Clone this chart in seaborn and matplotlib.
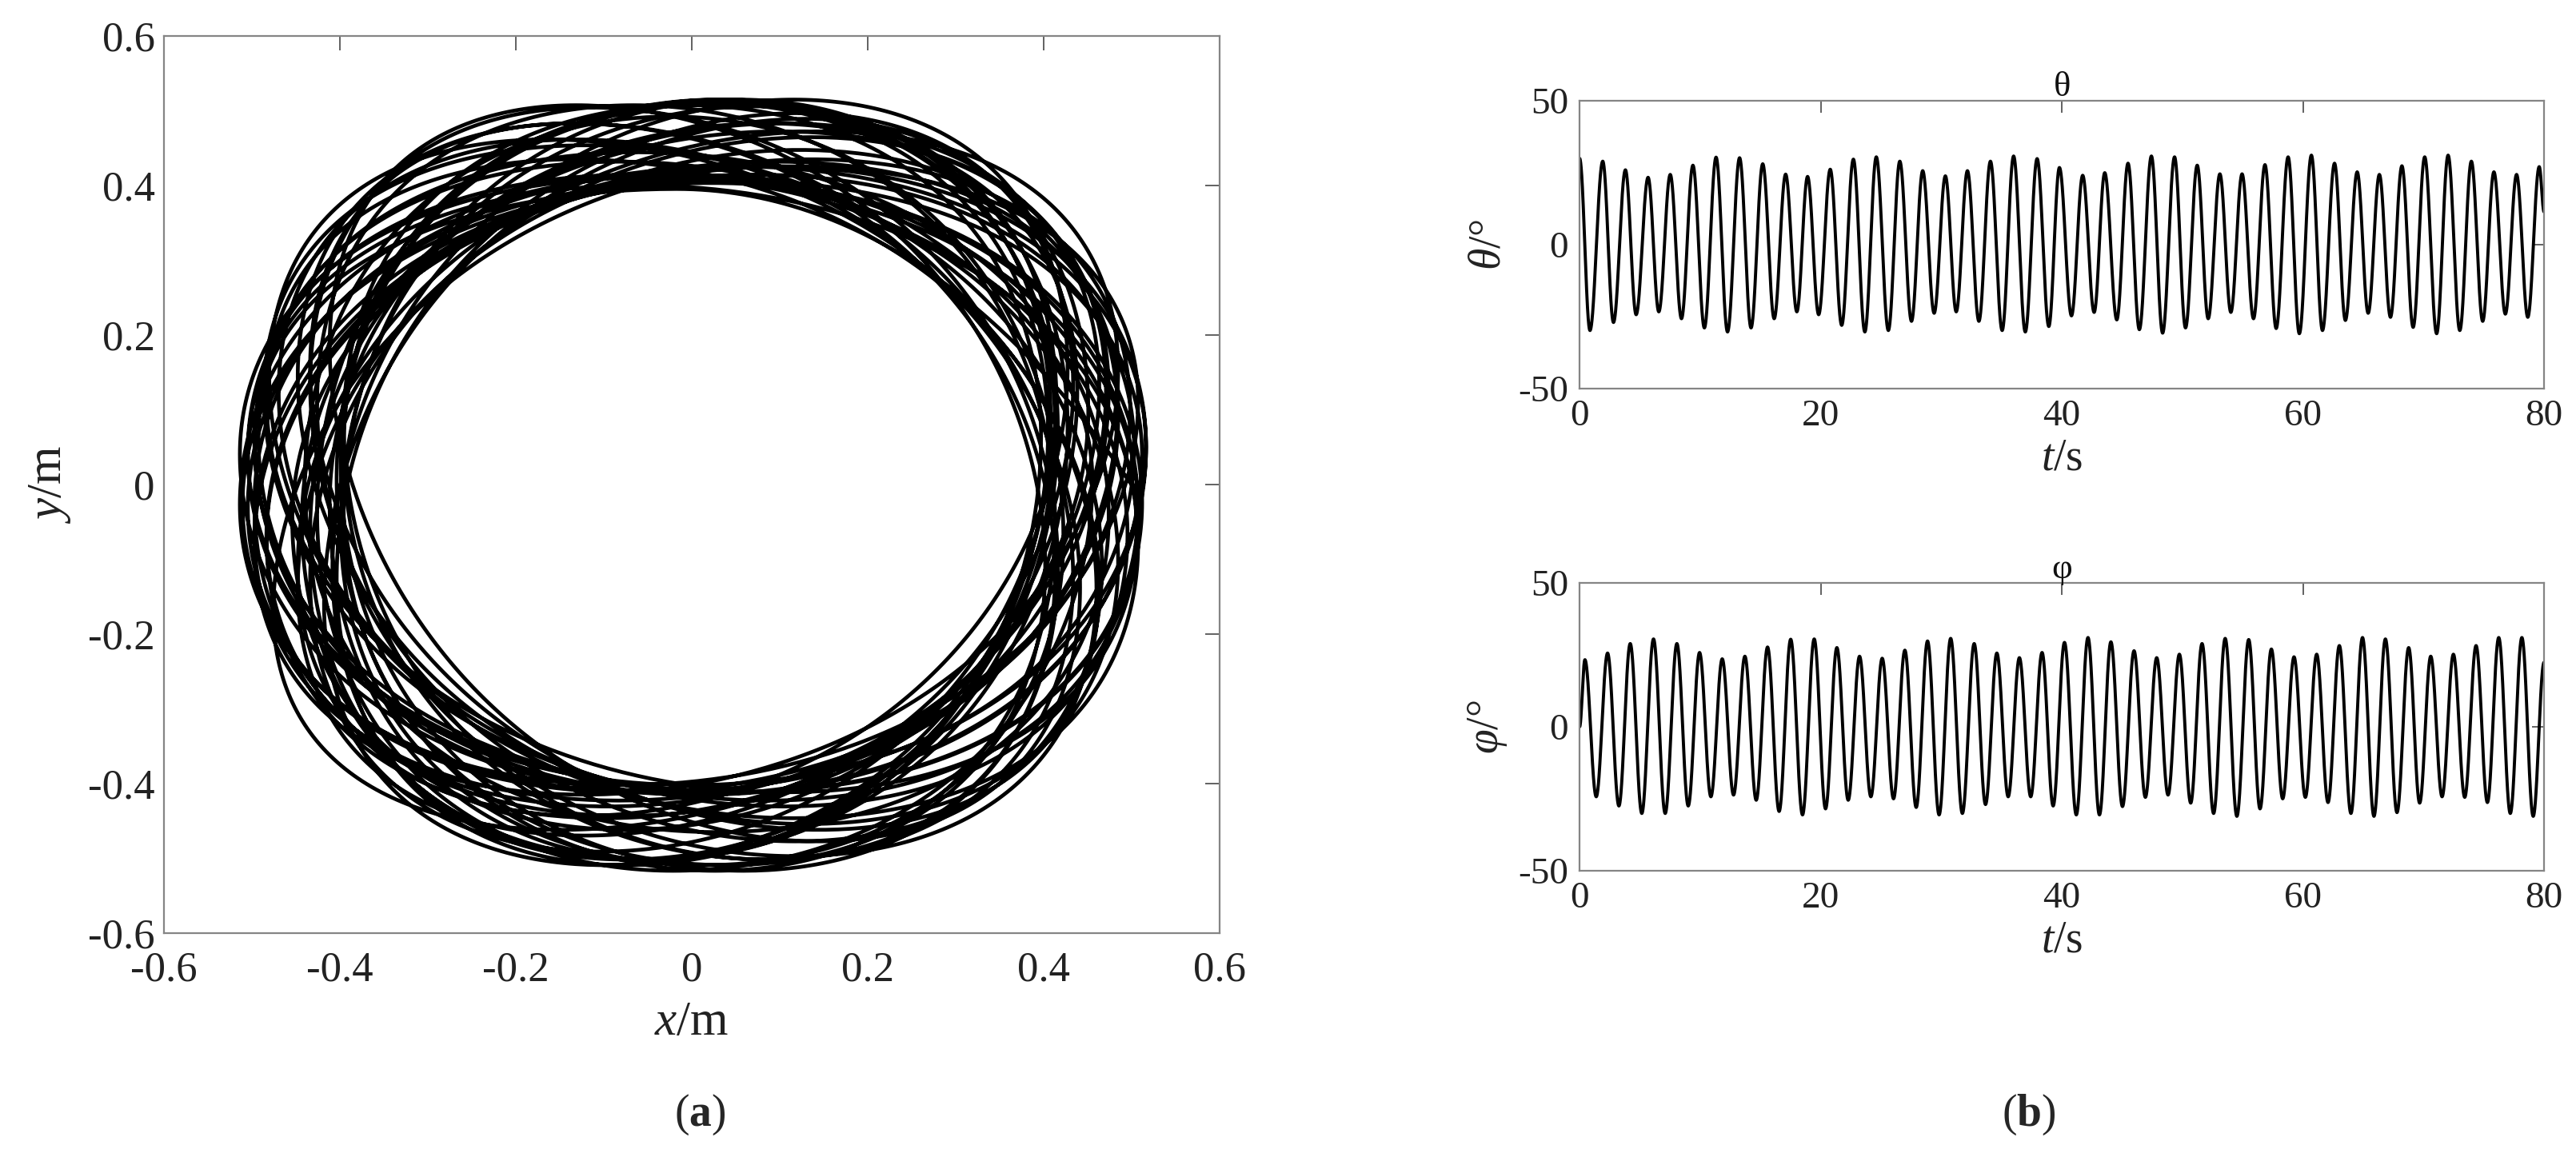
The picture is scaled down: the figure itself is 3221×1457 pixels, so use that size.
import numpy as np
import pandas as pd
import matplotlib
matplotlib.use("Agg")
import matplotlib.pyplot as plt
import seaborn as sns

# values: extrema of theta (deg) and their times (s)
theta_peak_t = [0.0, 1.92, 3.80, 5.68, 7.52, 9.40, 11.32, 13.27, 15.19, 17.09, 18.91, 20.79, 22.71,
                24.61, 26.56, 28.46, 30.34, 32.17, 34.08, 36.00, 37.95, 39.80, 41.73, 43.56, 45.49,
                47.43, 49.35, 51.23, 53.11, 54.95, 56.85, 58.77, 60.70, 62.62, 64.50, 66.34, 68.21,
                70.10, 72.04, 73.97, 75.84, 77.72, 79.60]
theta_peak_v = [30.0, 29.0, 26.0, 23.4, 24.4, 27.6, 30.4, 30.2, 28.1, 24.5, 23.7, 26.2, 29.7,
                30.5, 29.0, 25.7, 23.9, 25.7, 29.0, 30.8, 29.9, 26.8, 24.1, 25.0, 28.3,
                30.8, 30.5, 27.6, 24.6, 24.6, 27.8, 30.5, 31.1, 28.3, 25.3, 24.4, 27.4,
                30.5, 31.1, 29.0, 25.3, 24.4, 27.1]
theta_trough_t = [0.86, 2.81, 4.69, 6.57, 8.45, 10.35, 12.27, 14.22, 16.14, 18.02, 19.83, 21.74,
                  23.66, 25.61, 27.53, 29.41, 31.24, 33.12, 35.05, 36.97, 38.92, 40.80, 42.68,
                  44.56, 46.43, 48.36, 50.26, 52.14, 54.02, 55.90, 57.78, 59.70, 61.62, 63.52,
                  65.41, 67.26, 69.14, 71.09, 73.01, 74.91, 76.79, 78.65]
theta_trough_v = [-29.8, -27.0, -24.3, -23.3, -25.7, -28.9, -30.3, -28.9, -25.7, -23.3, -24.3, -28.0,
                  -30.3, -29.8, -26.6, -23.8, -23.3, -26.6, -29.8, -30.3, -28.4, -24.7, -23.5,
                  -26.1, -29.5, -30.7, -28.9, -25.7, -23.5, -25.7, -29.1, -30.9, -29.8, -26.3,
                  -23.8, -25.2, -28.7, -30.9, -29.8, -26.6, -24.1, -25.2]
theta_end = [80.0, 11.4]

# extrema of phi (deg)
phi_start = [0.0, 0.0]
phi_peak_t = [0.44, 2.32, 4.20, 6.13, 8.07, 9.95, 11.83, 13.71, 15.59, 17.51, 19.46, 21.34, 23.22,
              25.10, 26.98, 28.86, 30.78, 32.73, 34.61, 36.48, 38.36, 40.22, 42.17, 44.07, 45.99,
              47.87, 49.75, 51.63, 53.55, 55.50, 57.38, 59.26, 61.14, 63.02, 64.94, 66.84, 68.77,
              70.60, 72.48, 74.36, 76.24, 78.16]
phi_peak_v = [23.3, 25.6, 28.9, 30.5, 28.9, 25.8, 23.6, 24.5, 27.7, 30.4, 30.5, 27.5, 24.5,
              23.8, 26.6, 29.8, 30.7, 28.9, 25.6, 24.0, 25.8, 29.3, 31.0, 29.5, 26.4,
              24.0, 25.2, 28.9, 30.7, 30.3, 27.0, 24.3, 25.2, 28.2, 31.0, 30.5, 27.5,
              24.5, 25.2, 28.2, 31.0, 31.0]
phi_trough_t = [1.38, 3.26, 5.16, 7.10, 9.01, 10.89, 12.77, 14.65, 16.55, 18.49, 20.40, 22.28,
                24.16, 26.04, 27.92, 29.82, 31.75, 33.67, 35.55, 37.42, 39.28, 41.20, 43.12,
                45.03, 46.93, 48.81, 50.69, 52.59, 54.52, 56.44, 58.32, 60.20, 62.08, 63.98,
                65.89, 67.80, 69.68, 71.54, 73.42, 75.30, 77.20, 79.10]
phi_trough_v = [-24.3, -27.5, -30.1, -30.1, -27.5, -24.3, -23.7, -25.5, -29.4, -30.6, -28.5, -25.5,
                -24.3, -25.0, -28.0, -30.6, -30.1, -27.0, -24.3, -24.3, -27.5, -30.6, -30.6,
                -27.7, -24.5, -23.7, -26.5, -30.1, -31.1, -28.5, -25.0, -24.5, -26.3, -30.1,
                -31.1, -29.8, -26.5, -24.3, -24.5, -26.3, -30.1, -31.1]
phi_end = [80.0, 22.4]

pend_len = 1.0  # m, x = L sin(theta), y = L sin(phi)

xy_ticks = [-0.6, -0.4, -0.2, 0, 0.2, 0.4, 0.6]
xy_labels = ['-0.6', '-0.4', '-0.2', '0', '0.2', '0.4', '0.6']
t_ticks = [0, 20, 40, 60, 80]
ang_ticks = [-50, 0, 50]


def knots(first, pt, pv, tt, tv, last):
    kt = list(pt) + list(tt)
    kv = list(pv) + list(tv)
    if first is not None:
        kt.append(first[0]); kv.append(first[1])
    kt.append(last[0]); kv.append(last[1])
    order = np.argsort(kt)
    return np.array(kt)[order], np.array(kv)[order]


def through_extrema(kt, kv, t):
    # smooth half-cosine stroke from one read extremum to the next
    i = np.clip(np.searchsorted(kt, t, side='right') - 1, 0, len(kt) - 2)
    s = (t - kt[i]) / (kt[i + 1] - kt[i])
    return kv[i] + (kv[i + 1] - kv[i]) * (1 - np.cos(np.pi * s)) / 2


t = np.linspace(0, 80, 16001)
th_t, th_v = knots(None, theta_peak_t, theta_peak_v, theta_trough_t, theta_trough_v, theta_end)
ph_t, ph_v = knots(phi_start, phi_peak_t, phi_peak_v, phi_trough_t, phi_trough_v, phi_end)
df = pd.DataFrame({'t': t,
                   'theta': through_extrema(th_t, th_v, t),
                   'phi': through_extrema(ph_t, ph_v, t)})
df['x'] = pend_len * np.sin(np.radians(df['theta']))
df['y'] = pend_len * np.sin(np.radians(df['phi']))

sns.set_style('white')
plt.rcParams['font.family'] = ['Liberation Serif', 'DejaVu Serif']
plt.rcParams['mathtext.fontset'] = 'custom'
plt.rcParams['mathtext.rm'] = 'Liberation Serif'
plt.rcParams['mathtext.it'] = 'Liberation Serif:italic'
plt.rcParams['mathtext.bf'] = 'Liberation Serif:bold'
plt.rcParams['axes.unicode_minus'] = False

spine_c = '#858585'
fig = plt.figure(figsize=(32.21, 14.57), dpi=100)
ax_a = fig.add_axes([0.0636, 0.199, 0.4098, 0.770])
ax_th = fig.add_axes([0.6132, 0.6664, 0.3744, 0.2471])
ax_ph = fig.add_axes([0.6132, 0.2526, 0.3744, 0.2471])


def style(ax, tsize, tlen, xpad, ypad):
    for sp in ax.spines.values():
        sp.set_color(spine_c)
        sp.set_linewidth(1.6)
        sp.set_visible(True)
    ax.tick_params(direction='in', length=tlen, width=1.3, color='#555555',
                   top=True, right=True, labelsize=tsize, labelcolor='#222222')
    ax.tick_params(axis='x', pad=xpad)
    ax.tick_params(axis='y', pad=ypad)
    ax.grid(False)


# (a) trajectory
sns.lineplot(data=df, x='x', y='y', sort=False, estimator=None, color='black',
             linewidth=3.4, ax=ax_a)
ax_a.set_xlim(-0.6, 0.6)
ax_a.set_ylim(-0.6, 0.6)
ax_a.set_xticks(xy_ticks)
ax_a.set_xticklabels(xy_labels)
ax_a.set_yticks(xy_ticks)
ax_a.set_yticklabels(xy_labels)
ax_a.set_xlabel('$x$/m', fontsize=44, color='#222222', labelpad=10)
ax_a.set_ylabel('$y$/m', fontsize=44, color='#222222', labelpad=14)
style(ax_a, 38, 13, 16, 8)

# (b) angles
for ax, col, ttl, lab in [(ax_th, 'theta', 'θ', '$\\theta$/°'),
                          (ax_ph, 'phi', 'φ', '$\\varphi$/°')]:
    sns.lineplot(data=df, x='t', y=col, color='black', linewidth=2.8, ax=ax)
    ax.set_xlim(0, 80)
    ax.set_ylim(-50, 50)
    ax.set_xticks(t_ticks)
    ax.set_yticks(ang_ticks)
    ax.set_title(ttl, fontsize=32, pad=4, color='#111111')
    ax.set_xlabel('$t$/s', fontsize=40, color='#222222', labelpad=4)
    ax.set_ylabel(lab, fontsize=40, color='#222222', labelpad=8)
    style(ax, 34, 11, 10, 10)

fig.text(0.2717, 0.0432, '($\\mathbf{a}$)', fontsize=40, ha='center', va='center')
fig.text(0.7876, 0.0432, '($\\mathbf{b}$)', fontsize=40, ha='center', va='center')

fig.savefig('out.png', dpi=100, facecolor='white')
